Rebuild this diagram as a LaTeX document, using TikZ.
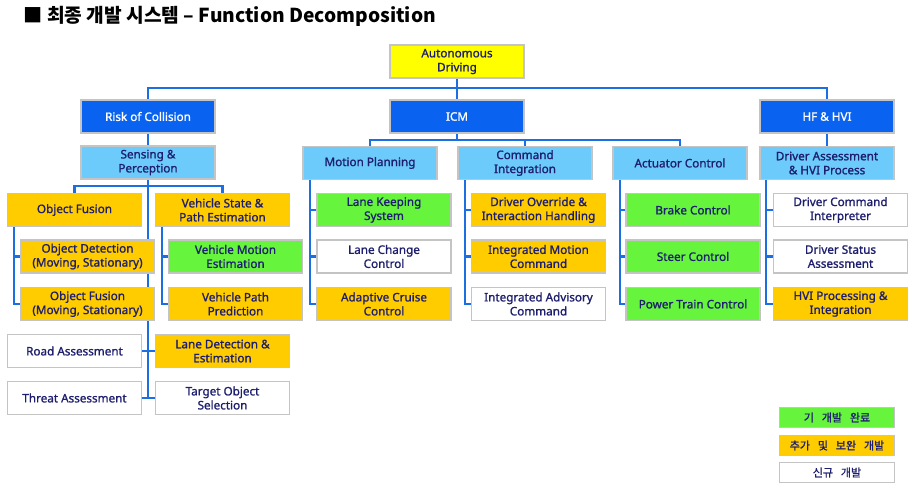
\documentclass[tikz,border=0pt]{standalone}
\usepackage{fontspec}
\setmainfont{Noto Sans}
\newfontfamily\bxf{Noto Sans}[FakeBold=1.2]
\newfontfamily\kr{Noto Sans CJK KR}
\newfontfamily\krb{Noto Sans CJK KR}[FakeBold=1.2, WordSpace=3.2]
\usetikzlibrary{backgrounds}
\definecolor{dblue}{HTML}{0A63F0}
\definecolor{lblue}{HTML}{6CCBFA}
\definecolor{yel}{HTML}{FFFF00}
\definecolor{org}{HTML}{FFCC00}
\definecolor{grn}{HTML}{66F53C}
\definecolor{navy}{HTML}{1E1E6E}
\definecolor{conncol}{HTML}{1B6FE0}
\definecolor{bord}{HTML}{C4C4C4}
\tikzset{
  bx/.style={rectangle, draw=bord, line width=1.5pt, inner sep=0pt, align=center,
    text=navy, font=\bxf\fontsize{11.7}{14}\selectfont, minimum width=134pt, minimum height=33pt},
  topbox/.style={bx, fill=dblue, text=white},
  midbox/.style={bx, fill=lblue},
  ybox/.style={bx, fill=yel},
  obox/.style={bx, fill=org},
  gbox/.style={bx, fill=grn},
  wbox/.style={bx, fill=white},
  conn/.style={draw=conncol, line width=2.2pt},
  lgbox/.style={bx, minimum width=115pt, minimum height=20pt, font=\krb\fontsize{11}{13}\selectfont}
}
\begin{document}
\begin{tikzpicture}[x=1pt,y=-1pt]
\useasboundingbox (0,0) rectangle (912,488);
\node[anchor=west, font=\kr\bfseries\fontsize{19.2}{22}\selectfont] (title) at (20,16) {■ 최종 개발 시스템 – Function Decomposition};

% level 0/1
\node[ybox] (auto) at (457,61.5) {Autonomous\\Driving};
\node[topbox] (roc) at (148,116.5) {Risk of Collision};
\node[topbox] (icm) at (457,116.5) {ICM};
\node[topbox] (hf) at (827,116.5) {HF \& HVI};
% level 2
\node[midbox] (sp) at (148,162.5) {Sensing \&\\Perception};
\node[midbox] (mp) at (370,163) {Motion Planning};
\node[midbox] (ci) at (525,163) {Command\\Integration};
\node[midbox] (ac) at (680,163) {Actuator Control};
\node[midbox] (da) at (827,163) {Driver Assessment\\\& HVI Process};
% sensing
\node[obox] (of) at (74.5,210) {Object Fusion};
\node[obox] (vs) at (222.5,210) {Vehicle State \&\\Path Estimation};
\node[obox] (od) at (87.5,256.5) {Object Detection\\(Moving, Stationary)};
\node[obox] (ofm) at (87.5,304) {Object Fusion\\(Moving, Stationary)};
\node[gbox] (vme) at (235.5,256.5) {Vehicle Motion\\Estimation};
\node[obox] (vpp) at (235.5,304) {Vehicle Path\\Prediction};
\node[wbox] (ra) at (74.5,351) {Road Assessment};
\node[obox] (lde) at (222.5,351) {Lane Detection \&\\Estimation};
\node[wbox] (ta) at (74.5,398) {Threat Assessment};
\node[wbox] (tos) at (222.5,398) {Target Object\\Selection};
% motion planning
\node[gbox] (lks) at (384,210) {Lane Keeping\\System};
\node[wbox] (lcc) at (384,256.5) {Lane Change\\Control};
\node[obox] (acc) at (384,304) {Adaptive Cruise\\Control};
% command integration
\node[obox] (doi) at (538.5,210) {Driver Override \&\\Interaction Handling};
\node[obox] (imc) at (538.5,256.5) {Integrated Motion\\Command};
\node[wbox] (iac) at (538.5,304) {Integrated Advisory\\Command};
% actuator
\node[gbox] (bc) at (693,210) {Brake Control};
\node[gbox] (sc) at (693,256.5) {Steer Control};
\node[gbox] (ptc) at (693,304) {Power Train Control};
% driver assessment
\node[wbox] (dci) at (840.5,210) {Driver Command\\Interpreter};
\node[wbox] (dsa) at (840.5,256.5) {Driver Status\\Assessment};
\node[obox] (hvi) at (840.5,304) {HVI Processing \&\\Integration};
% legend
\node[lgbox, fill=grn] (lg1) at (837,417.5) {기 개발 완료};
\node[lgbox, fill=org] (lg2) at (837,445.5) {추가 및 보완 개발};
\node[lgbox, fill=white] (lg3) at (837,472.5) {신규 개발};

\coordinate (jt) at (457,88);
\coordinate (jm) at (457,140);
\coordinate (js) at (148,186);
\begin{scope}[on background layer]
  \fill[white] (0,0) rectangle (912,488);
  \draw[conn] (auto.south) -- (icm.north);
  \draw[conn] (roc.north) |- (jt) -| (hf.north);
  \draw[conn] (roc.south) -- (sp.north);
  \draw[conn] (sp.south) -- (sp.south |- ta.east);
  \draw[conn] (js) -| (of.north);
  \draw[conn] (js) -| (vs.north);
  \draw[conn] (ra.east) -- (lde.west);
  \draw[conn] (ta.east) -- (tos.west);
  \draw[conn] (of.south west) ++(7,0) |- (od.west);
  \draw[conn] (of.south west) ++(7,0) |- (ofm.west);
  \draw[conn] (vs.south west) ++(7,0) |- (vme.west);
  \draw[conn] (vs.south west) ++(7,0) |- (vpp.west);
  \draw[conn] (icm.south) -- (jm);
  \draw[conn] (jm) -| (mp.north);
  \draw[conn] (jm) -| (ac.north);
  \draw[conn] (jm) -| (ci.north);
  \draw[conn] (mp.south west) ++(8,0) |- (lks.west);
  \draw[conn] (mp.south west) ++(8,0) |- (lcc.west);
  \draw[conn] (mp.south west) ++(8,0) |- (acc.west);
  \draw[conn] (ci.south west) ++(8,0) |- (doi.west);
  \draw[conn] (ci.south west) ++(8,0) |- (imc.west);
  \draw[conn] (ci.south west) ++(8,0) |- (iac.west);
  \draw[conn] (ac.south west) ++(8,0) |- (bc.west);
  \draw[conn] (ac.south west) ++(8,0) |- (sc.west);
  \draw[conn] (ac.south west) ++(8,0) |- (ptc.west);
  \draw[conn] (hf.south) -- (da.north);
  \draw[conn] (da.south west) ++(7,0) |- (dci.west);
  \draw[conn] (da.south west) ++(7,0) |- (dsa.west);
  \draw[conn] (da.south west) ++(7,0) |- (hvi.west);
\end{scope}
\end{tikzpicture}
\end{document}
